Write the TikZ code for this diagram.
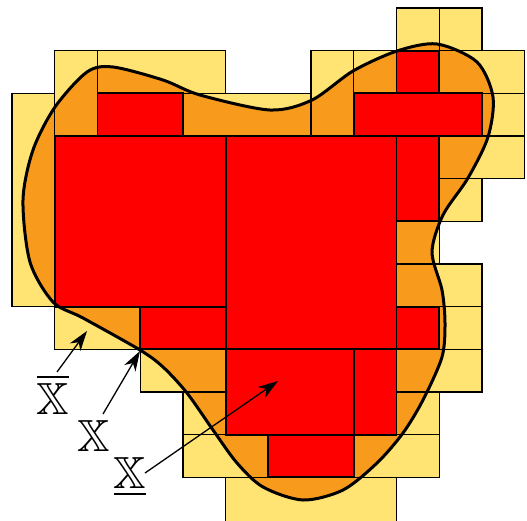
\documentclass[tikz,border=0pt]{standalone}
\usepackage{amssymb}
\usetikzlibrary{arrows.meta}
\definecolor{cellyellow}{RGB}{255,228,115}
\definecolor{bloborange}{RGB}{248,154,28}
\definecolor{cellred}{RGB}{255,0,0}
\tikzset{
  ycell/.style={fill=cellyellow},
  yline/.style={draw=black, line width=1.3pt},
  rcell/.style={fill=cellred, draw=black, line width=1.8pt},
  blobline/.style={line width=3pt, line join=round},
  ptr/.style={line width=1.3pt, -{Stealth[length=20pt,width=13pt,inset=6pt]}},
  lbl/.style={font=\fontsize{45}{50}\selectfont, inner sep=0pt, anchor=base},
}
\begin{document}
\begin{tikzpicture}[x=1pt,y=-1pt]
\useasboundingbox (0,0) rectangle (527,520);
% yellow cells (fill)
\begin{scope}[shift={(12,8)},x=42.72pt,y=-42.67pt]
  \foreach \c/\r/\w/\h in {9/0/1/1,10/0/1/1,1/1/1/2,2/1/3/1,7/1/1/2,8/1/1/1,10/1/2/1,
      0/2/1/5,4/2/3/1,11/2/1/1,10/3/2/1,10/4/1/1,9/5/1/1,9/6/2/1,1/7/2/1,10/7/1/1,
      3/8/2/1,9/8/2/1,4/9/1/1,9/9/1/1,4/10/2/1,8/10/2/1,5/11/4/1.2}
    \fill[ycell] (\c,\r) rectangle ++(\w,\h);
\end{scope}
% orange interior of the set
\fill[bloborange] plot[smooth cycle] coordinates {
  (113,67) (163,80) (200,95) (270,110) (312,100) (353,71) (397,51) (437,44)
  (477,62) (493,97) (488,137) (468,178) (443,215) (432,252) (442,290) (445,323)
  (442,357) (423,400) (403,433) (377,463) (343,490) (303,500) (263,487) (237,463)
  (213,430) (187,393) (163,367) (140,350) (83,318) (53,302) (30,262) (23,200)
  (33,150) (55,107) (87,72)};
% yellow cell borders
\begin{scope}[shift={(12,8)},x=42.72pt,y=-42.67pt]
  \foreach \c/\r/\w/\h in {9/0/1/1,10/0/1/1,1/1/1/2,2/1/3/1,7/1/1/2,8/1/1/1,10/1/2/1,
      0/2/1/5,4/2/3/1,11/2/1/1,10/3/2/1,10/4/1/1,9/5/1/1,9/6/2/1,1/7/2/1,10/7/1/1,
      3/8/2/1,9/8/2/1,4/9/1/1,9/9/1/1,4/10/2/1,8/10/2/1,5/11/4/1.2}
    \draw[yline] (\c,\r) rectangle ++(\w,\h);
  % red cells
  \foreach \c/\r/\w/\h in {9/1/1/1,2/2/2/1,8/2/3/1,1/3/4/4,5/3/4/5,9/3/1/2,3/7/2/1,
      9/7/1/1,5/8/3/2,8/8/1/2,6/10/2/1}
    \filldraw[rcell] (\c,\r) rectangle ++(\w,\h);
\end{scope}
% boundary curve
\draw[blobline] plot[smooth cycle] coordinates {
  (113,67) (163,80) (200,95) (270,110) (312,100) (353,71) (397,51) (437,44)
  (477,62) (493,97) (488,137) (468,178) (443,215) (432,252) (442,290) (445,323)
  (442,357) (423,400) (403,433) (377,463) (343,490) (303,500) (263,487) (237,463)
  (213,430) (187,393) (163,367) (140,350) (83,318) (53,302) (30,262) (23,200)
  (33,150) (55,107) (87,72)};
% labels
\node[lbl] (upper) at (53,414) {$\overline{\mathbb{X}}$};
\node[lbl] (set) at (94,451) {$\mathbb{X}$};
\node[lbl] (lower) at (130,488) {$\underline{\mathbb{X}}$};
\coordinate (s1) at (57,372);
\coordinate (t1) at (87,331);
\coordinate (s2) at (103,414);
\coordinate (t2) at (140,351);
\coordinate (s3) at (145,473);
\coordinate (t3) at (278,381);
\draw[ptr] (s1) -- (t1);
\draw[ptr] (s2) -- (t2);
\draw[ptr] (s3) -- (t3);
\end{tikzpicture}
\end{document}
